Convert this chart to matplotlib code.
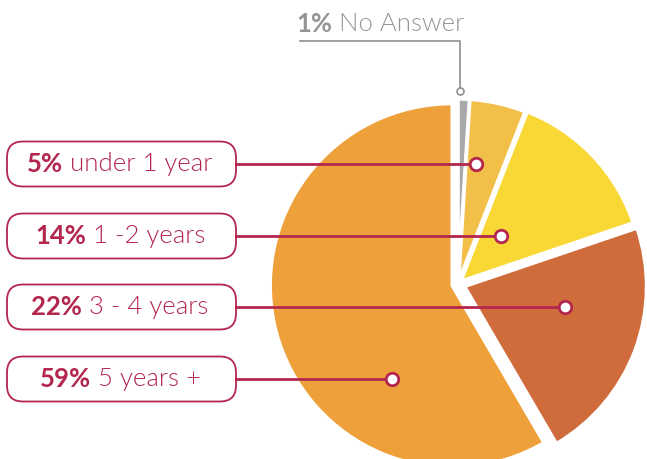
import matplotlib.pyplot as plt
from matplotlib.patches import FancyBboxPatch

# 数据
labels = ["No Answer", "under 1 year", "1 -2 years", "3 - 4 years", "5 years +"]
pcts = [1, 5, 14, 22, 59]
colors = ["#A7A8AC", "#F2BF48", "#F9D836", "#D06C3C", "#EEA03B"]
explode_px = [3, 3, 4, 7, 6]   # pie的explode是数据单位（这里=像素）

crimson = "#B3264E"
grey_txt = "#939598"
fam = ["Lato", "DejaVu Sans"]
fsize = 18.5

fig = plt.figure(figsize=(6.47, 4.60), dpi=100)
ax = fig.add_axes([0, 0, 1, 1])

# 饼图（坐标按像素，y向上）
cx, cy, r = 458, 460 - 285, 182
ax.pie(pcts, colors=colors, explode=explode_px, startangle=90, counterclock=False,
       center=(cx, cy), radius=r,
       wedgeprops=dict(edgecolor="white", linewidth=2.5))
ax.set_xlim(0, 647)
ax.set_ylim(0, 460)
ax.set_aspect("equal")
ax.axis("off")

fig.canvas.draw()
rend = fig.canvas.get_renderer()


def two_part(x_center, y, bold, light, color, size):
    # 粗体百分比 + 细体文字，整体居中
    t1 = ax.text(0, y, bold, fontsize=size, fontweight="bold", color=color,
                 family=fam, va="center", ha="left")
    t2 = ax.text(0, y, " " + light, fontsize=size, fontweight=300, color=color,
                 family=fam, va="center", ha="left")
    inv = ax.transData.inverted()
    w1 = t1.get_window_extent(rend)
    w2 = t2.get_window_extent(rend)
    d1 = inv.transform([w1.x1, 0])[0] - inv.transform([w1.x0, 0])[0]
    d2 = inv.transform([w2.x1, 0])[0] - inv.transform([w2.x0, 0])[0]
    x0 = x_center - (d1 + d2) / 2
    t1.set_x(x0)
    t2.set_x(x0 + d1)


# 左侧标签框
box_y = [165, 237, 308, 380]          # 像素y
dot_x = [476, 501, 565, 392]
for i, (py, dx) in enumerate(zip(box_y, dot_x)):
    k = i + 1
    y = 460 - py
    box = FancyBboxPatch((7, y - 22.5), 229, 45,
                         boxstyle="round,pad=0,rounding_size=16",
                         facecolor="white", edgecolor=crimson, linewidth=1.3, zorder=3)
    ax.add_patch(box)
    ax.plot([236, dx], [y, y], color=crimson, linewidth=2, zorder=4)
    ax.plot(dx, y, "o", markersize=9, markerfacecolor="white",
            markeredgecolor=crimson, markeredgewidth=2, zorder=5)
    two_part(120, y + 1, "%d%%" % pcts[k], labels[k], crimson, fsize)

# 顶部 No Answer 标签
ty = 460 - 24
two_part(380, ty, "%d%%" % pcts[0], labels[0], grey_txt, fsize)
ax.plot([300, 460, 460], [460 - 42, 460 - 42, 460 - 90], color="#8E8F93", linewidth=1.2)
ax.plot(460, 460 - 92, "o", markersize=5, markerfacecolor="white",
        markeredgecolor="#8E8F93", markeredgewidth=1.2, zorder=5)

fig.savefig("out.png", dpi=100)
